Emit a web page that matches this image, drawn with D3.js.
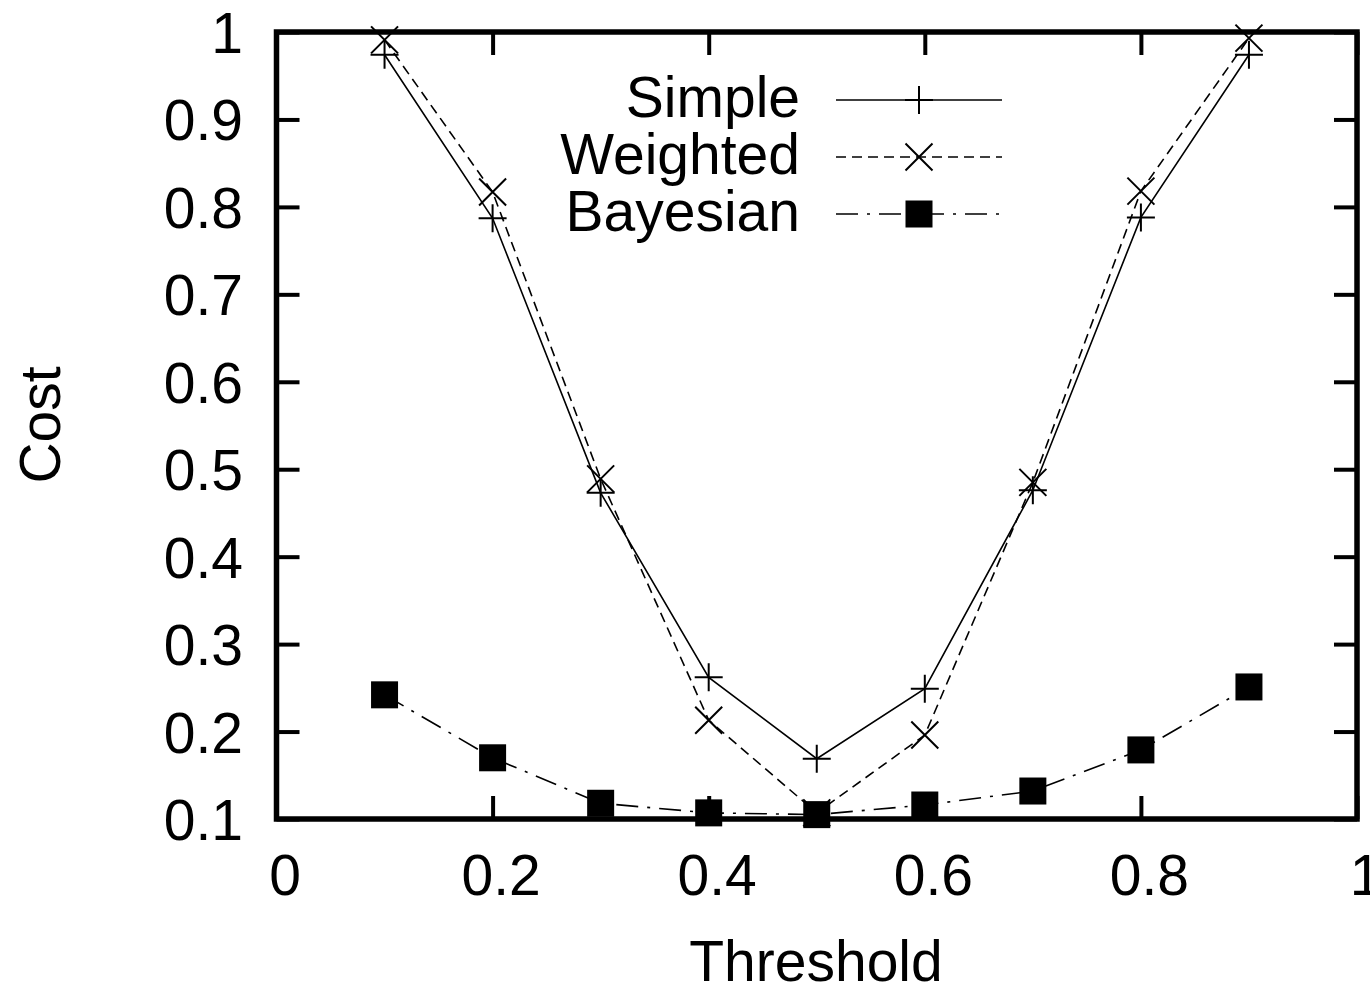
<!DOCTYPE html>
<html>
<head>
<meta charset="utf-8">
<script src="https://cdn.jsdelivr.net/npm/d3@7"></script>
<style>
  body { margin: 0; background: #fff; }
  svg { display: block; font-family: "Liberation Sans", Arial, Helvetica, sans-serif; }
</style>
</head>
<body>
<svg id="chart" width="1370" height="987"></svg>
<script>
// values
var thresholds = [0.1, 0.2, 0.3, 0.4, 0.5, 0.6, 0.7, 0.8, 0.9];
var simpleCost = [0.974, 0.787, 0.473, 0.262, 0.169, 0.249, 0.476, 0.788, 0.974];
var weightedCost = [0.991, 0.817, 0.489, 0.213, 0.107, 0.196, 0.485, 0.818, 0.993];
var bayesianCost = [0.242, 0.170, 0.118, 0.107, 0.105, 0.116, 0.132, 0.179, 0.251];

var xTicks = [0, 0.2, 0.4, 0.6, 0.8, 1];
var yTicks = [0.1, 0.2, 0.3, 0.4, 0.5, 0.6, 0.7, 0.8, 0.9, 1];
var seriesNames = ['Simple', 'Weighted', 'Bayesian'];

var svg = d3.select('#chart');
// note: plain "top" would clash with window.top
var plotLeft = 276.5, plotRight = 1357, plotTop = 32, plotBottom = 819;
var fontSize = 57;

var x = d3.scaleLinear().domain([0, 1]).range([plotLeft, plotRight]);
var y = d3.scaleLinear().domain([0.1, 1]).range([plotBottom, plotTop]);

var fmt = function(d) { return String(+d.toFixed(1)); };

// axes, ticks pointing inward on all four sides
var gx = svg.append('g')
	.attr('transform', 'translate(0,' + plotBottom + ')')
	.call(d3.axisBottom(x).tickValues(xTicks).tickFormat(fmt)
		.tickSizeInner(-23).tickSizeOuter(0).tickPadding(35.5));
gx.selectAll('text').attr('dx', 8);

var gy = svg.append('g')
	.attr('transform', 'translate(' + plotLeft + ',0)')
	.call(d3.axisLeft(y).tickValues(yTicks).tickFormat(fmt)
		.tickSizeInner(-23).tickSizeOuter(0).tickPadding(33.5));
gy.selectAll('text').attr('dy', '0.36em');

svg.append('g')
	.attr('transform', 'translate(0,' + plotTop + ')')
	.call(d3.axisTop(x).tickValues(xTicks).tickFormat('')
		.tickSizeInner(-23).tickSizeOuter(0));

svg.append('g')
	.attr('transform', 'translate(' + plotRight + ',0)')
	.call(d3.axisRight(y).tickValues(yTicks).tickFormat('')
		.tickSizeInner(-23).tickSizeOuter(0));

svg.selectAll('.domain').remove();
svg.selectAll('.tick line').attr('stroke', '#000').attr('stroke-width', 4);
svg.selectAll('.tick text')
	.attr('fill', '#000')
	.attr('font-size', fontSize)
	.attr('font-family', '"Liberation Sans", Arial, sans-serif');

// frame
svg.append('rect')
	.attr('x', plotLeft).attr('y', plotTop)
	.attr('width', plotRight - plotLeft).attr('height', plotBottom - plotTop)
	.attr('fill', 'none').attr('stroke', '#000').attr('stroke-width', 5.5);

// axis titles
svg.append('text')
	.attr('x', 816).attr('y', 981)
	.attr('text-anchor', 'middle')
	.attr('font-size', fontSize)
	.text('Threshold');

svg.append('text')
	.attr('transform', 'translate(60,425) rotate(-90)')
	.attr('text-anchor', 'middle')
	.attr('font-size', fontSize)
	.text('Cost');

// markers
var plusPath = function(s) {
	var h = s / 2;
	return 'M' + (-h) + ',0H' + h + 'M0,' + (-h) + 'V' + h;
};
var crossPath = function(s) {
	var h = s / 2;
	return 'M' + (-h) + ',' + (-h) + 'L' + h + ',' + h + 'M' + (-h) + ',' + h + 'L' + h + ',' + (-h);
};

var series = [
	{name: seriesNames[0], values: simpleCost, dash: null, marker: 'plus'},
	{name: seriesNames[1], values: weightedCost, dash: '10,6', marker: 'cross'},
	{name: seriesNames[2], values: bayesianCost, dash: '22,9,3,9', marker: 'square'}
];

var line = d3.line()
	.x(function(d) { return x(d[0]); })
	.y(function(d) { return y(d[1]); });

var drawMarker = function(g, kind, cx, cy) {
	if (kind === 'square') {
		g.append('rect')
			.attr('x', cx - 13.5).attr('y', cy - 13.5)
			.attr('width', 27).attr('height', 27)
			.attr('fill', '#000');
	} else {
		g.append('path')
			.attr('transform', 'translate(' + cx + ',' + cy + ')')
			.attr('d', kind === 'plus' ? plusPath(28) : crossPath(27))
			.attr('fill', 'none').attr('stroke', '#000').attr('stroke-width', 2);
	}
};

series.forEach(function(s) {
	var pts = thresholds.map(function(t, i) { return [t, s.values[i]]; });
	var g = svg.append('g').attr('class', 'series');
	g.append('path')
		.datum(pts)
		.attr('d', line)
		.attr('fill', 'none')
		.attr('stroke', '#000')
		.attr('stroke-width', 1.6)
		.attr('stroke-dasharray', s.dash);
	pts.forEach(function(p) { drawMarker(g, s.marker, x(p[0]), y(p[1])); });
});

// legend
var legendRowY = [100, 157, 214];
series.forEach(function(s, i) {
	var g = svg.append('g').attr('class', 'legend');
	g.append('text')
		.attr('x', 800).attr('y', legendRowY[i] + 17)
		.attr('text-anchor', 'end')
		.attr('font-size', fontSize)
		.text(s.name);
	g.append('line')
		.attr('x1', 836).attr('x2', 1002)
		.attr('y1', legendRowY[i]).attr('y2', legendRowY[i])
		.attr('stroke', '#000').attr('stroke-width', 1.6)
		.attr('stroke-dasharray', s.dash);
	drawMarker(g, s.marker, 919, legendRowY[i]);
});
</script>
</body>
</html>
